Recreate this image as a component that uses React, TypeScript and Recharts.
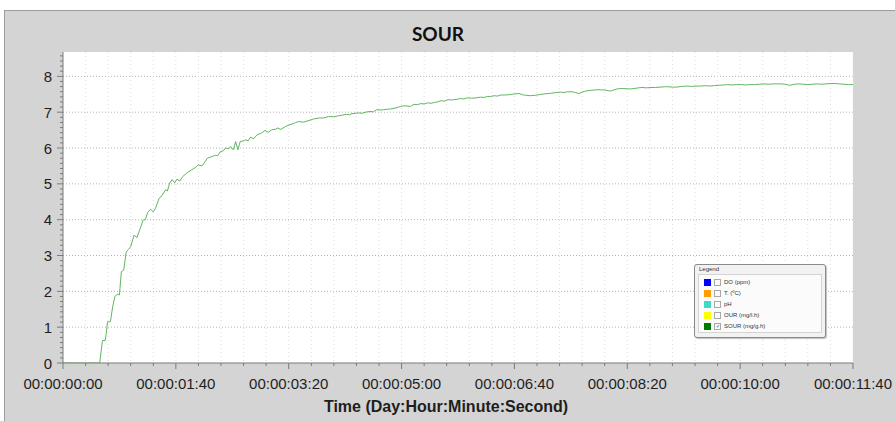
import React from 'react';
import { LineChart, Line, XAxis, YAxis, CartesianGrid, Legend } from 'recharts';

// elapsed time in seconds
const times = [
  0, 10, 20, 30, 32.5, 35, 37.5, 39.5, 42, 44,
  46, 48, 50, 51.7, 53.8, 56, 58, 60, 63, 65.5,
  68, 71, 73, 75, 77.5, 80, 82, 85, 88, 91,
  92.5, 94.5, 96.7, 99, 101, 103.5, 106, 110, 114, 117,
  120, 123, 125, 128, 132, 135, 137, 139.5, 142, 144,
  147, 148.5, 151, 153, 155, 157, 160, 162, 164, 166,
  169, 172, 176, 179, 182, 185, 188, 190, 193, 197,
  201, 204, 206, 209, 213, 218, 222, 227, 231, 235.5,
  240, 244, 248, 251, 254, 256, 260, 262, 265, 268,
  272, 275, 278, 281, 284, 287, 290, 295, 299, 303,
  308, 311, 314, 317, 320, 323, 326, 329, 332, 335,
  338, 341, 344, 346, 349, 352, 355, 358, 362, 366,
  370, 373, 376, 379, 382, 385, 388, 392, 396, 400,
  404, 408, 411, 414, 418, 422, 426, 430, 433, 437,
  441, 444, 447, 451, 454, 457, 460, 462, 465, 468,
  471, 474, 477, 480, 483, 485, 488, 491, 494, 497,
  500, 503, 506, 510, 513, 517, 521, 525, 529, 533,
  536, 540, 544, 548, 553, 557, 561, 565, 569, 573,
  577, 581, 585, 589, 593, 597, 601, 605, 609, 613,
  617, 621, 625, 629, 633, 636, 640, 644, 648, 652,
  656, 660, 664, 668, 672, 676, 680, 684, 688, 692,
  696, 700,
];

// SOUR (mg/g.h)
const sour = [
  0, 0, 0, 0, 0, 0.63, 0.63, 1.15, 1.15, 1.57,
  1.85, 1.92, 1.9, 2.55, 2.59, 3.1, 3.17, 3.25, 3.57, 3.5,
  3.72, 3.99, 4.0, 4.2, 4.29, 4.22, 4.32, 4.58, 4.69, 4.84,
  4.8, 5.02, 5.12, 5.03, 5.13, 5.08, 5.2, 5.31, 5.39, 5.45,
  5.53, 5.5, 5.58, 5.72, 5.76, 5.8, 5.78, 5.9, 5.92, 6.0,
  5.98, 6.04, 5.95, 6.18, 5.95, 6.18, 6.2, 6.23, 6.2, 6.3,
  6.26, 6.37, 6.42, 6.49, 6.44, 6.51, 6.52, 6.56, 6.52, 6.6,
  6.65, 6.68, 6.71, 6.74, 6.72, 6.77, 6.81, 6.84, 6.84, 6.88,
  6.87, 6.9, 6.92, 6.94, 6.93, 6.96, 6.97, 6.98, 6.97, 7.0,
  7.02, 7.01, 7.07, 7.06, 7.07, 7.08, 7.09, 7.12, 7.16, 7.18,
  7.16, 7.22, 7.21, 7.24, 7.23, 7.26, 7.25, 7.27, 7.29, 7.32,
  7.31, 7.35, 7.34, 7.35, 7.36, 7.38, 7.37, 7.4, 7.39, 7.4,
  7.42, 7.41, 7.44, 7.44, 7.46, 7.45, 7.48, 7.48, 7.49, 7.51,
  7.52, 7.48, 7.47, 7.46, 7.47, 7.49, 7.51, 7.52, 7.53, 7.55,
  7.56, 7.55, 7.57, 7.57, 7.55, 7.52, 7.56, 7.58, 7.6, 7.61,
  7.62, 7.63, 7.62, 7.62, 7.6, 7.59, 7.62, 7.65, 7.66, 7.66,
  7.65, 7.65, 7.66, 7.68, 7.69, 7.68, 7.69, 7.69, 7.7, 7.71,
  7.71, 7.7, 7.7, 7.72, 7.73, 7.72, 7.73, 7.73, 7.74, 7.73,
  7.74, 7.75, 7.76, 7.77, 7.76, 7.77, 7.77, 7.76, 7.77, 7.77,
  7.78, 7.79, 7.78, 7.79, 7.79, 7.79, 7.78, 7.75, 7.78, 7.79,
  7.78, 7.77, 7.78, 7.79, 7.78, 7.79, 7.8, 7.8, 7.79, 7.78,
  7.77, 7.77,
];

const xMajorTicks = [0, 100, 200, 300, 400, 500, 600, 700];
const xTickLabels = [
  '00:00:00:00', '00:00:01:40', '00:00:03:20', '00:00:05:00',
  '00:00:06:40', '00:00:08:20', '00:00:10:00', '00:00:11:40',
];
const yMajorTicks = [0, 1, 2, 3, 4, 5, 6, 7, 8];

const legendItems = [
  { label: 'DO (ppm)', color: '#0000ff', checked: false },
  { label: 'T. (ºC)', color: '#ff9c00', checked: false },
  { label: 'pH', color: '#3fd9c8', checked: false },
  { label: 'OUR (mg/l.h)', color: '#ffff00', checked: false },
  { label: 'SOUR (mg/g.h)', color: '#007a00', checked: true },
];

const chartTitle = 'SOUR';
const xAxisTitle = 'Time (Day:Hour:Minute:Second)';

const data = times.map((t, i) => ({ t, sour: sour[i] }));

const X_MAX = 700;
const Y_MAX = 8.68;
const xMinorTicks = Array.from({ length: X_MAX / 20 + 1 }, (_, i) => i * 20);
const yMinorTicks = Array.from({ length: Math.floor(Y_MAX * 7) + 1 }, (_, i) => i / 7);

const W = 895;
const H = 421;
const AXIS = '#7a7a7a';
const FONT = '"Liberation Sans", Arial, sans-serif';

const XTick = (props: any) => {
  const { x, y, payload } = props;
  const idx = xMajorTicks.indexOf(payload.value);
  const major = idx >= 0;
  return (
    <g>
      <line x1={x} x2={x} y1={y} y2={y + (major ? 6 : 3)} stroke={AXIS} />
      {major && (
        <text x={x} y={y + 26} textAnchor="middle" fontSize={15} fontFamily={FONT} fill="#1e1e1e">
          {xTickLabels[idx]}
        </text>
      )}
    </g>
  );
};

const YTick = (props: any) => {
  const { x, y, payload } = props;
  const v = payload.value;
  const r = Math.round(v);
  const major = Math.abs(v - r) < 1e-6 && yMajorTicks.includes(r);
  return (
    <g>
      <line x1={x - (major ? 6 : 3)} x2={x} y1={y} y2={y} stroke={AXIS} />
      {major && (
        <text x={x - 11} y={y + 5.5} textAnchor="end" fontSize={15} fontFamily={FONT} fill="#1e1e1e">
          {r}
        </text>
      )}
    </g>
  );
};

const LegendBox = () => (
  <div
    style={{
      width: 132,
      height: 74,
      boxSizing: 'border-box',
      border: '1px solid #8a8a8a',
      borderRadius: 3,
      background: '#f2f2f2',
      position: 'relative',
      fontFamily: FONT,
      boxShadow: '1px 1px 1px rgba(0,0,0,0.25)',
    }}
  >
    <div style={{ position: 'absolute', left: 4, top: 1, fontSize: 6, color: '#333' }}>Legend</div>
    <div
      style={{
        position: 'absolute', left: 3, top: 9, right: 3, bottom: 4,
        border: '1px solid #d4d4d4', background: '#fbfbfb',
      }}
    >
      {legendItems.map((it, i) => (
        <div
          key={i}
          style={{ position: 'absolute', left: 5, top: 3 + i * 11, height: 8, display: 'flex', alignItems: 'center' }}
        >
          <span style={{ width: 7, height: 7, background: it.color, display: 'inline-block' }} />
          <span
            style={{
              width: 5, height: 5, border: '1px solid #a8a8a8', marginLeft: 3, background: '#fafafa',
              display: 'inline-block', fontSize: 5, lineHeight: '5px', textAlign: 'center', color: '#444',
            }}
          >
            {it.checked ? '✓' : ''}
          </span>
          <span style={{ marginLeft: 3, fontSize: 6, color: '#333', whiteSpace: 'nowrap' }}>{it.label}</span>
        </div>
      ))}
    </div>
  </div>
);

export default function App() {
  return (
    <div style={{ position: 'absolute', left: 0, top: 0, width: W, height: H, background: '#fff', overflow: 'hidden' }}>
      <svg width={W} height={H} style={{ position: 'absolute', left: 0, top: 0 }}>
        <rect x={4.5} y={10.5} width={W} height={H} fill="#d4d4d4" stroke="#9c9c9c" />
        <text x={438} y={41} textAnchor="middle" fontSize={19} fontWeight="bold" fontFamily="Lato, 'Open Sans', sans-serif" fill="#111">
          {chartTitle}
        </text>
      </svg>
      <div style={{ position: 'absolute', left: 0, top: 0 }}>
        <LineChart width={W} height={H} data={data} margin={{ top: 52, right: 42, bottom: 0, left: 0 }}>
          <CartesianGrid
            horizontal={true}
            vertical={false}
            horizontalValues={[1, 2, 3, 4, 5, 6, 7, 8]}
            stroke="#b4b4b4"
            strokeDasharray="1 2"
            fill="#ffffff"
          />
          <CartesianGrid
            horizontal={false}
            vertical={true}
            verticalValues={xMinorTicks.slice(1)}
            stroke="#dcdcdc"
            strokeDasharray="1 3"
          />
          <XAxis
            dataKey="t"
            type="number"
            domain={[0, X_MAX]}
            ticks={xMinorTicks}
            interval={0}
            tickSize={0}
            tickMargin={0}
            tickLine={false}
            tick={<XTick />}
            axisLine={{ stroke: AXIS }}
            height={58}
            allowDataOverflow
            label={{
              content: (p: any) => {
                const vb = p.viewBox;
                return (
                  <text x={vb.x + vb.width / 2 - 12} y={vb.y + 49} textAnchor="middle" fontSize={16} fontWeight="bold" fontFamily={FONT} fill="#1e1e1e">
                    {xAxisTitle}
                  </text>
                );
              },
            }}
          />
          <XAxis
            xAxisId="top"
            orientation="top"
            dataKey="t"
            type="number"
            domain={[0, X_MAX]}
            ticks={xMinorTicks}
            interval={0}
            height={0}
            mirror
            tickSize={3}
            tick={false}
            tickLine={{ stroke: AXIS }}
            axisLine={{ stroke: '#6e6e6e' }}
            allowDataOverflow
          />
          <YAxis
            type="number"
            domain={[0, Y_MAX]}
            ticks={yMinorTicks}
            interval={0}
            tickSize={0}
            tickMargin={0}
            tickLine={false}
            tick={<YTick />}
            axisLine={{ stroke: AXIS }}
            width={63}
            allowDataOverflow
          />
          <YAxis
            yAxisId="right"
            orientation="right"
            type="number"
            domain={[0, Y_MAX]}
            ticks={[]}
            tick={false}
            tickLine={false}
            width={0}
            axisLine={{ stroke: '#a0a0a0', strokeWidth: 2 }}
          />
          <Legend
            layout="vertical"
            align="center"
            verticalAlign="middle"
            content={() => <LegendBox />}
            wrapperStyle={{ left: 694, top: 264, width: 132, height: 74 }}
          />
          <Line
            type="linear"
            dataKey="sour"
            name="SOUR (mg/g.h)"
            stroke="#62b562"
            strokeWidth={1}
            dot={false}
            isAnimationActive={false}
          />
        </LineChart>
      </div>
    </div>
  );
}
